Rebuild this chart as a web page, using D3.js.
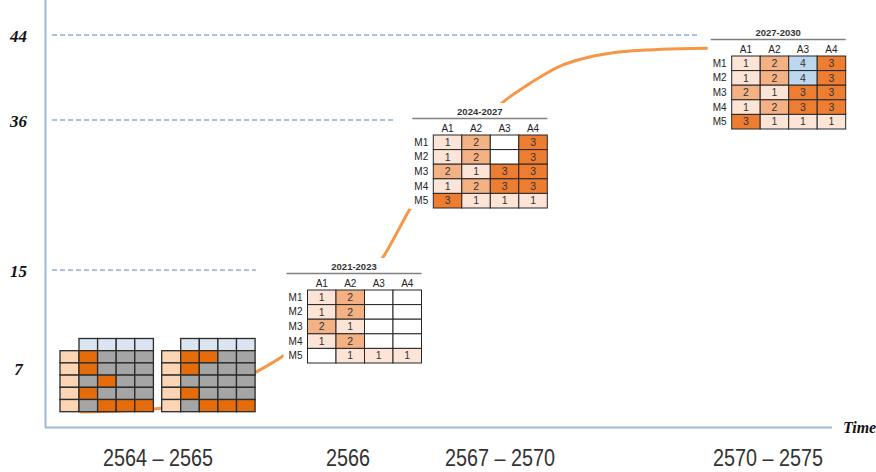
<!DOCTYPE html>
<html>
<head>
<meta charset="utf-8">
<script src="https://cdn.jsdelivr.net/npm/d3@7"></script>
<style>
  body { margin: 0; background: #fff; }
  svg { display: block; }
</style>
</head>
<body>
<svg id="chart" width="876" height="472"></svg>
<script>
/* levels marked on the vertical axis */
const yLevels = [7, 15, 36, 44];
const dashedLevels = [44, 36, 15];

/* periods along the time axis */
const periods = ["2564 – 2565", "2566", "2567 – 2570", "2570 – 2575"];

/* growth curve, x in period index, y in axis units */
const curveT = [-0.41, -0.02, 0.52, 0.67, 1.24, 1.42, 2.022, 2.112, 2.174, 2.235, 2.299, 2.422, 2.549, 2.672, 2.784];
const curveV = [3.4, 3.65, 6.7, 8.1, 17.1, 24.0, 37.9, 39.45, 40.4, 41.18, 41.71, 42.33, 42.59, 42.71, 42.75];

/* matrix labels */
const colNames = ["A1", "A2", "A3", "A4"];
const rowNames = ["M1", "M2", "M3", "M4", "M5"];

/* level matrices, 0 = empty */
const titles = ["2021-2023", "2024-2027", "2027-2030"];
const values2021 = [
  [1, 2, 0, 0],
  [1, 2, 0, 0],
  [2, 1, 0, 0],
  [1, 2, 0, 0],
  [0, 1, 1, 1]
];
const values2024 = [
  [1, 2, 0, 3],
  [1, 2, 0, 3],
  [2, 1, 3, 3],
  [1, 2, 3, 3],
  [3, 1, 1, 1]
];
const values2027 = [
  [1, 2, 4, 3],
  [1, 2, 4, 3],
  [2, 1, 3, 3],
  [1, 2, 3, 3],
  [3, 1, 1, 1]
];

/* early status grids, 1 = done */
const gridEarly1 = [
  [1, 0, 0, 0],
  [1, 0, 0, 0],
  [0, 1, 0, 0],
  [1, 0, 0, 0],
  [0, 1, 1, 1]
];
const gridEarly2 = [
  [1, 1, 0, 0],
  [1, 0, 0, 0],
  [0, 0, 0, 0],
  [1, 0, 0, 0],
  [0, 1, 1, 1]
];

const svg = d3.select("#chart");

/*the axis is not linear, so both scales are piecewise*/
const x = d3.scaleLinear().domain([0, 1, 2, 3]).range([158, 348, 500, 768]);
const y = d3.scaleLinear().domain(yLevels).range([368, 270, 120, 35]);

const axisColor = "#9db6da";
const levelColor = d3.scaleOrdinal()
  .domain([0, 1, 2, 3, 4])
  .range(["#ffffff", "#fce4d6", "#f4b183", "#ed7d31", "#bdd7ee"]);

/*axis lines*/
svg.append("line")
  .attr("x1", 45.5).attr("x2", 45.5)
  .attr("y1", 0).attr("y2", 427.5)
  .attr("stroke", axisColor).attr("stroke-width", 2);
svg.append("line")
  .attr("x1", 45).attr("x2", 832)
  .attr("y1", 427.5).attr("y2", 427.5)
  .attr("stroke", axisColor).attr("stroke-width", 2);

svg.append("text")
  .attr("x", 843).attr("y", 433)
  .text("Time")
  .style("font-family", "Liberation Serif")
  .style("font-weight", "bold")
  .style("font-style", "italic")
  .style("font-size", "16px")
  .style("fill", "#111");

/*level labels*/
svg.append("g").selectAll("text")
  .data(yLevels)
  .join("text")
  .attr("x", 18.5)
  .attr("y", d => y(d) + 1)
  .attr("dy", "0.35em")
  .attr("text-anchor", "middle")
  .text(d => d)
  .style("font-family", "Liberation Serif")
  .style("font-weight", "bold")
  .style("font-style", "italic")
  .style("font-size", "17px")
  .style("fill", "#111");

/*dashed guide lines, each stops before its matrix*/
const dashEnd = { 44: 700, 36: 396, 15: 256 };
svg.append("g").selectAll("line")
  .data(dashedLevels)
  .join("line")
  .attr("x1", 52)
  .attr("x2", d => dashEnd[d])
  .attr("y1", d => y(d))
  .attr("y2", d => y(d))
  .attr("stroke", "#8eaadb")
  .attr("stroke-width", 1.3)
  .attr("stroke-dasharray", "5,3");

/*period labels, squeezed sideways to look like a narrow face*/
svg.append("g").selectAll("text")
  .data(periods)
  .join("text")
  .attr("transform", (d, i) => `translate(${x(i)},466) scale(0.86,1)`)
  .attr("text-anchor", "middle")
  .text(d => d)
  .style("font-family", "Liberation Sans")
  .style("font-size", "23px")
  .style("fill", "#333");

/*growth curve, drawn before the matrices so they hide parts of it*/
const line = d3.line()
  .x(d => x(d[0]))
  .y(d => y(d[1]))
  .curve(d3.curveMonotoneX);

svg.append("path")
  .datum(d3.zip(curveT, curveV))
  .attr("d", line)
  .attr("fill", "none")
  .attr("stroke", "#f79646")
  .attr("stroke-width", 3);

/*small status grids on the left*/
function drawStatusGrid(data, left) {
  const top = 338.5, cw = 18.6, ch = 12.2, fw = 19;
  const g = svg.append("g");
  g.selectAll("rect.head")
    .data(colNames)
    .join("rect")
    .attr("class", "head")
    .attr("x", (d, i) => left + fw + i * cw)
    .attr("y", top)
    .attr("width", cw).attr("height", ch)
    .attr("fill", "#dbe5f1");
  g.selectAll("rect.first")
    .data(rowNames)
    .join("rect")
    .attr("class", "first")
    .attr("x", left)
    .attr("y", (d, i) => top + ch + i * ch)
    .attr("width", fw).attr("height", ch)
    .attr("fill", "#fcd5b5");
  g.selectAll("g.row")
    .data(data)
    .join("g")
    .attr("class", "row")
    .selectAll("rect")
    .data((row, r) => row.map(v => ({ v, r })))
    .join("rect")
    .attr("x", (d, i) => left + fw + i * cw)
    .attr("y", d => top + ch + d.r * ch)
    .attr("width", cw).attr("height", ch)
    .attr("fill", d => (d.v ? "#e46c0a" : "#a5a5a5"));
  g.selectAll("rect")
    .attr("stroke", "#2b2b2b")
    .attr("stroke-width", 1.3);
}
drawStatusGrid(gridEarly1, 60);
drawStatusGrid(gridEarly2, 161.7);

/*level matrices*/
const cw = 28.5, ch = 14.6;
function drawMatrix(title, data, left, top) {
  const g = svg.append("g").style("font-family", "Liberation Sans");
  const right = left + cw * colNames.length;

  /*white background hides the curve behind the matrix*/
  g.append("rect")
    .attr("x", left - 24).attr("y", top - 32)
    .attr("width", right - left + 26).attr("height", ch * 5 + 33)
    .attr("fill", "#fff");

  g.append("text")
    .attr("x", (left - 21 + right) / 2)
    .attr("y", top - 23)
    .attr("dy", "0.35em")
    .attr("text-anchor", "middle")
    .text(title)
    .style("font-size", "9.5px")
    .style("font-weight", "bold")
    .style("fill", "#333");

  g.append("line")
    .attr("x1", left - 21).attr("x2", right)
    .attr("y1", top - 16.5).attr("y2", top - 16.5)
    .attr("stroke", "#808080").attr("stroke-width", 1.5);

  g.selectAll("text.col")
    .data(colNames)
    .join("text")
    .attr("class", "col")
    .attr("x", (d, i) => left + cw * i + cw / 2)
    .attr("y", top - 6.5)
    .attr("dy", "0.35em")
    .attr("text-anchor", "middle")
    .text(d => d)
    .style("font-size", "10px")
    .style("fill", "#222");

  g.selectAll("text.rowname")
    .data(rowNames)
    .join("text")
    .attr("class", "rowname")
    .attr("x", left - 12)
    .attr("y", (d, i) => top + ch * i + ch / 2)
    .attr("dy", "0.35em")
    .attr("text-anchor", "middle")
    .text(d => d)
    .style("font-size", "10px")
    .style("fill", "#222");

  const cells = g.selectAll("g.cell")
    .data(data.flatMap((row, r) => row.map((v, c) => ({ v, r, c }))))
    .join("g")
    .attr("class", "cell");

  cells.append("rect")
    .attr("x", d => left + d.c * cw)
    .attr("y", d => top + d.r * ch)
    .attr("width", cw).attr("height", ch)
    .attr("fill", d => levelColor(d.v))
    .attr("stroke", "#262626")
    .attr("stroke-width", 1);

  cells.filter(d => d.v > 0)
    .append("text")
    .attr("x", d => left + d.c * cw + cw / 2)
    .attr("y", d => top + d.r * ch + ch / 2)
    .attr("dy", "0.35em")
    .attr("text-anchor", "middle")
    .text(d => d.v)
    .style("font-size", "10.5px")
    .style("fill", "#333");
}

drawMatrix(titles[0], values2021, 307.5, 290);
drawMatrix(titles[1], values2024, 433.3, 135);
drawMatrix(titles[2], values2027, 731.7, 56);
</script>
</body>
</html>
